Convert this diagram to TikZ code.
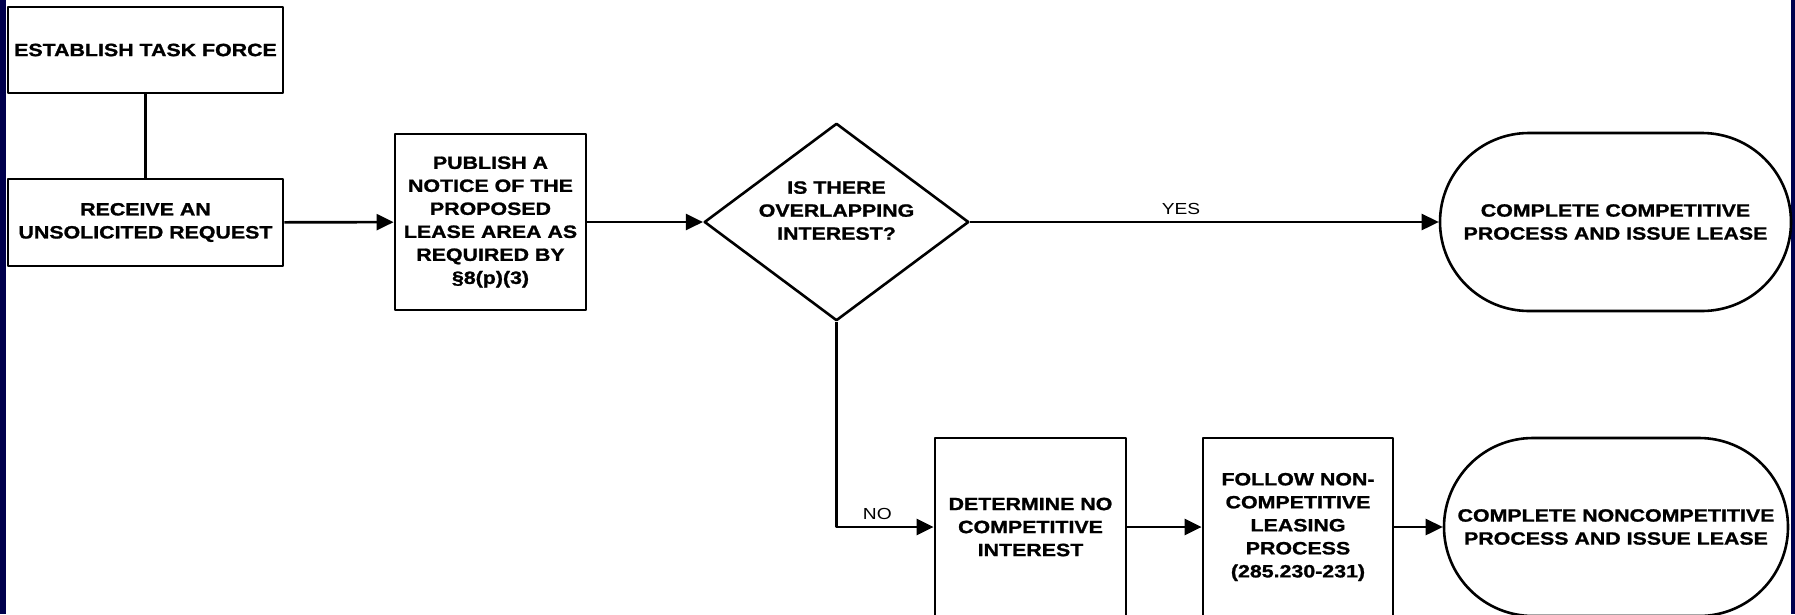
\documentclass[tikz,border=0pt]{standalone}
\usepackage{fontspec}
\setmainfont{Liberation Sans}[FakeStretch=1.2,BoldFeatures={FakeBold=1.2}]
\usetikzlibrary{arrows.meta,shapes.geometric,shapes.misc}
\definecolor{navyband}{RGB}{0,0,77}
\begin{document}
\begin{tikzpicture}[x=1pt,y=-1pt,>={Triangle[length=17pt,width=16pt]}, line join=round,
		font=\fontsize{17.8}{23}\selectfont\bfseries,
		box/.style={draw,line width=2.8pt,align=center,inner sep=0pt},
		decision/.style={diamond,aspect=1.34,draw,line width=2.6pt,align=center,inner sep=0pt,minimum width=258pt,minimum height=193pt},
		terminal/.style={rounded rectangle,draw,line width=2.6pt,align=center,inner sep=0pt,minimum height=178pt},
		flow/.style={line width=2.6pt},
		answer/.style={font=\fontsize{16}{19}\selectfont\mdseries,above=3pt}]
	\def\W{1795} \def\H{614}
	\clip (0,0) rectangle (\W,\H);
	\fill[white] (0,0) rectangle (\W,\H);
	% bands left and right
	\fill[navyband] (0,0) rectangle (6,\H);
	\fill[navyband] (1791,0) rectangle (\W,\H);
	% left column
	\node[box,minimum width=275pt,minimum height=86pt] (task) at (145.5,50) {ESTABLISH TASK FORCE};
	\node[box,minimum width=275pt,minimum height=87pt] (recv) at (145.5,222.5) {RECEIVE AN\\UNSOLICITED REQUEST};
	% upper row
	\node[box,minimum width=191pt,minimum height=176pt] (pub) at (490.5,222) {PUBLISH A\\NOTICE OF THE\\PROPOSED\\LEASE AREA AS\\REQUIRED BY\\§8(p)(3)};
	\node[decision] (dec) at (836.5,222) {IS THERE\\OVERLAPPING\\INTEREST?\\\mbox{}};
	\node[terminal,minimum width=351pt] (comp) at (1615.5,222) {COMPLETE COMPETITIVE\\PROCESS AND ISSUE LEASE};
	% lower row
	\node[box,minimum width=191pt,minimum height=178pt] (det) at (1030.5,527) {DETERMINE NO\\COMPETITIVE\\INTEREST};
	\node[box,minimum width=190pt,minimum height=178pt] (fol) at (1298,527) {FOLLOW NON-\\COMPETITIVE\\LEASING\\PROCESS\\(285.230-231)};
	\node[terminal,minimum width=344pt] (noncomp) at (1616,527) {COMPLETE NONCOMPETITIVE\\PROCESS AND ISSUE LEASE};
	% connectors
	\draw[flow] (task) -- (recv);
	\draw[flow,->] (recv) -- (pub);
	\draw[flow,->] (pub) -- (dec);
	\draw[flow,->] (dec) -- node[answer,pos=0.45]{YES} (comp);
	\draw[flow,->] (dec.south) |- node[answer,pos=0.71]{NO} (det.west);
	\draw[flow,->] (det) -- (fol);
	\draw[flow,->] (fol) -- (noncomp);
\end{tikzpicture}
\end{document}
